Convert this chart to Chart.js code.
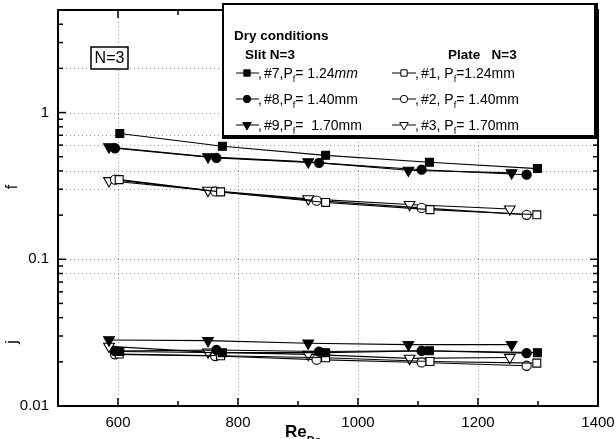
<!DOCTYPE html>
<html>
<head>
<meta charset="utf-8">
<script src="https://cdn.jsdelivr.net/npm/chart.js@4.4.0/dist/chart.umd.min.js"></script>
<style>
  html, body { margin: 0; padding: 0; background: #fff; overflow: hidden; }
  #wrap { width: 616px; height: 439px; overflow: hidden; }
  canvas { display: block; }
</style>
</head>
<body>
<div id="wrap"><canvas id="chart" width="640" height="439"></canvas></div>
<script>
// Re_Dc for each sample (same x for f and j)
const re7 = [603, 774, 946, 1119, 1299];
const re8 = [595, 764, 935, 1106, 1281];
const re9 = [585, 750, 917, 1084, 1256];
const re1 = [602, 771, 946, 1120, 1298];
const re2 = [595, 762, 931, 1106, 1281];
const re3 = [585, 750, 917, 1086, 1253];

// friction factor f
const f7 = [0.719, 0.589, 0.511, 0.458, 0.415];
const f8 = [0.571, 0.491, 0.454, 0.408, 0.377];
const f9 = [0.583, 0.499, 0.461, 0.404, 0.388];
const f1 = [0.349, 0.288, 0.244, 0.218, 0.201];
const f2 = [0.349, 0.290, 0.251, 0.224, 0.201];
const f3 = [0.343, 0.295, 0.258, 0.236, 0.220];

// Colburn factor j
const j7 = [0.0235, 0.0231, 0.0231, 0.0238, 0.0231];
const j8 = [0.0237, 0.0241, 0.0235, 0.0238, 0.0229];
const j9 = [0.0282, 0.0279, 0.0268, 0.0262, 0.0262];
const j1 = [0.0226, 0.0220, 0.0213, 0.0201, 0.0196];
const j2 = [0.0225, 0.0219, 0.0207, 0.0198, 0.0188];
const j3 = [0.0255, 0.0233, 0.0225, 0.0211, 0.0214];

// ticks
const xMajor = [600, 800, 1000, 1200, 1400];
const xMinor = [700, 900, 1100, 1300];
const yMajor = [0.01, 0.1, 1];
const yMinor = [0.02, 0.03, 0.04, 0.05, 0.06, 0.07, 0.08, 0.09,
                0.2, 0.3, 0.4, 0.5, 0.6, 0.7, 0.8, 0.9, 2, 3, 4];
const yDotted = [2, 1, 0.7, 0.6, 0.4, 0.3, 0.1, 0.08];
const xDotted = [600, 800, 1000, 1200];

// legend text
const legendTitle = "Dry conditions";
const slitHead = "Slit N=3";
const plateHead = "Plate   N=3";
const slitRows = [["#7,P", "= 1.24", "mm"], ["#8,P", "= 1.40mm", ""], ["#9,P", "=  1.70mm", ""]];
const plateRows = [["#1, P", "=1.24mm"], ["#2, P", "= 1.40mm"], ["#3, P", "= 1.70mm"]];

const styles = {
  sq: { pointStyle: "rect", radius: 5.6, rotation: 0 },
  ci: { pointStyle: "circle", radius: 4.6, rotation: 0 },
  tr: { pointStyle: "triangle", radius: 6.2, rotation: 180 }
};

function series(label, xs, ys, st, filled) {
  const s = styles[st];
  return {
    label: label,
    data: xs.map((x, i) => ({ x: x, y: ys[i] })),
    borderColor: "#000",
    borderWidth: 1.1,
    pointStyle: s.pointStyle,
    pointRadius: s.radius,
    pointRotation: s.rotation,
    pointBackgroundColor: filled ? "#000" : "#fff",
    pointBorderColor: "#000",
    pointBorderWidth: 1.1,
    fill: false,
    tension: 0
  };
}

const datasets = [
  series("f #7", re7, f7, "sq", true),
  series("f #8", re8, f8, "ci", true),
  series("f #9", re9, f9, "tr", true),
  series("f #1", re1, f1, "sq", false),
  series("f #2", re2, f2, "ci", false),
  series("f #3", re3, f3, "tr", false),
  series("j #7", re7, j7, "sq", true),
  series("j #8", re8, j8, "ci", true),
  series("j #9", re9, j9, "tr", true),
  series("j #1", re1, j1, "sq", false),
  series("j #2", re2, j2, "ci", false),
  series("j #3", re3, j3, "tr", false)
];

const FONT = "'Liberation Sans', Arial, sans-serif";

function marker(ctx, st, filled, x, y) {
  const s = styles[st];
  ctx.save();
  ctx.fillStyle = filled ? "#000" : "#fff";
  ctx.strokeStyle = "#000";
  ctx.lineWidth = 1;
  Chart.helpers.drawPoint(ctx, { pointStyle: s.pointStyle, radius: s.radius * 0.8, rotation: s.rotation, borderWidth: 1 }, x, y);
  ctx.restore();
}

const decor = {
  id: "decor",
  beforeDatasetsDraw(chart) {
    const ctx = chart.ctx, a = chart.chartArea;
    const xs = chart.scales.x, ys = chart.scales.y;
    ctx.save();
    ctx.strokeStyle = "#9a9a9a";
    ctx.lineWidth = 1;
    ctx.setLineDash([1, 3]);
    yDotted.forEach(v => {
      const y = Math.round(ys.getPixelForValue(v)) + 0.5;
      ctx.beginPath(); ctx.moveTo(a.left, y); ctx.lineTo(a.right, y); ctx.stroke();
    });
    xDotted.forEach(v => {
      const x = Math.round(xs.getPixelForValue(v)) + 0.5;
      ctx.beginPath(); ctx.moveTo(x, a.top); ctx.lineTo(x, a.bottom); ctx.stroke();
    });
    ctx.restore();
  },
  afterDraw(chart) {
    const ctx = chart.ctx, a = chart.chartArea;
    const xs = chart.scales.x, ys = chart.scales.y;
    ctx.save();
    ctx.strokeStyle = "#000";
    ctx.fillStyle = "#000";

    // frame
    ctx.lineWidth = 2;
    ctx.strokeRect(a.left, a.top, a.right - a.left, a.bottom - a.top);

    // inward ticks on all four sides
    ctx.lineWidth = 1.5;
    const tick = (x1, y1, x2, y2) => { ctx.beginPath(); ctx.moveTo(x1, y1); ctx.lineTo(x2, y2); ctx.stroke(); };
    yMajor.concat(yMinor).forEach(v => {
      const y = ys.getPixelForValue(v);
      const len = yMajor.includes(v) ? 8 : 5;
      tick(a.left, y, a.left + len, y);
      tick(a.right, y, a.right - len, y);
    });
    xMajor.concat(xMinor).forEach(v => {
      const x = xs.getPixelForValue(v);
      const len = xMajor.includes(v) ? 8 : 5;
      tick(x, a.bottom, x, a.bottom - len);
      tick(x, a.top, x, a.top + len);
    });

    // axis titles
    ctx.font = "bold 17px " + FONT;
    ctx.textAlign = "left";
    ctx.textBaseline = "alphabetic";
    ctx.fillText("Re", 285, 437);
    const rw = ctx.measureText("Re").width;
    ctx.font = "bold 11px " + FONT;
    ctx.fillText("Dc", 285 + rw, 444);

    ctx.font = "16px " + FONT;
    ctx.textAlign = "center";
    ctx.textBaseline = "middle";
    [["f", 187], ["j", 342]].forEach(([t, y]) => {
      ctx.save();
      ctx.translate(13, y);
      ctx.rotate(-Math.PI / 2);
      ctx.fillText(t, 0, 0);
      ctx.restore();
    });

    // N=3 box
    ctx.lineWidth = 1.5;
    ctx.fillStyle = "#fff";
    ctx.fillRect(91, 47, 37, 22);
    ctx.strokeRect(91, 47, 37, 22);
    ctx.fillStyle = "#000";
    ctx.font = "16px " + FONT;
    ctx.fillText("N=3", 109.5, 58.5);

    // legend box
    const L = 222, T = 3, R = 598, B = 139;
    ctx.fillStyle = "#fff";
    ctx.fillRect(L, T, R - L, B - T);
    ctx.fillStyle = "#000";
    ctx.fillRect(L, T, R - L, 2);
    ctx.fillRect(L, T, 2, B - T);
    ctx.fillRect(R - 4, T, 4, B - T);
    ctx.fillRect(L, B - 4, R - L, 4);

    ctx.textAlign = "left";
    ctx.textBaseline = "alphabetic";
    ctx.font = "bold 13.5px " + FONT;
    ctx.fillText(legendTitle, 234, 40);
    ctx.fillText(slitHead, 245, 59);
    ctx.fillText(plateHead, 448, 59);

    const rowY = [78, 104, 130];
    const keys = ["sq", "ci", "tr"];
    const sub = (x, y) => {
      ctx.font = "9px " + FONT;
      ctx.fillText("f", x, y + 4);
      return x + ctx.measureText("f").width;
    };
    rowY.forEach((y, i) => {
      const my = y - 5;
      // slit column
      ctx.lineWidth = 1;
      tick(236, my, 259, my);
      marker(ctx, keys[i], true, 247, my);
      ctx.font = "14px " + FONT;
      ctx.fillText(",", 258, y);
      let x = 264;
      ctx.fillText(slitRows[i][0], x, y);
      x += ctx.measureText(slitRows[i][0]).width;
      x = sub(x, y);
      ctx.font = "14px " + FONT;
      ctx.fillText(slitRows[i][1], x, y);
      x += ctx.measureText(slitRows[i][1]).width;
      if (slitRows[i][2]) {
        ctx.font = "italic 14px " + FONT;
        ctx.fillText(slitRows[i][2], x, y);
      }
      // plate column
      tick(392, my, 416, my);
      marker(ctx, keys[i], false, 404, my);
      ctx.font = "14px " + FONT;
      ctx.fillText(",", 415, y);
      x = 421;
      ctx.fillText(plateRows[i][0], x, y);
      x += ctx.measureText(plateRows[i][0]).width;
      x = sub(x, y);
      ctx.font = "14px " + FONT;
      ctx.fillText(plateRows[i][1], x, y);
    });
    ctx.restore();
  }
};

new Chart(document.getElementById("chart").getContext("2d"), {
  type: "line",
  data: { datasets: datasets },
  options: {
    responsive: false,
    animation: false,
    devicePixelRatio: 1,
    layout: { padding: { top: 10, right: 42, left: 0, bottom: 0 } },
    plugins: { legend: { display: false }, tooltip: { enabled: false } },
    scales: {
      x: {
        type: "linear",
        min: 500,
        max: 1400,
        afterBuildTicks: (s) => { s.ticks = xMajor.map(v => ({ value: v })); },
        afterFit: (s) => { s.height = 33; s.paddingLeft = 0; s.paddingRight = 0; },
        grid: { display: false, drawTicks: false },
        border: { display: false },
        ticks: {
          color: "#000",
          padding: 8,
          maxRotation: 0,
          font: { size: 15, family: FONT },
          callback: (v) => String(v)
        }
      },
      y: {
        type: "logarithmic",
        min: 0.01,
        max: 5,
        afterBuildTicks: (s) => { s.ticks = yMajor.map(v => ({ value: v })); },
        afterFit: (s) => { s.width = 58; s.paddingTop = 0; s.paddingBottom = 0; },
        grid: { display: false, drawTicks: false },
        border: { display: false },
        ticks: {
          color: "#000",
          padding: 9,
          font: { size: 15, family: FONT },
          callback: (v) => String(v)
        }
      }
    }
  },
  plugins: [decor]
});
</script>
</body>
</html>
